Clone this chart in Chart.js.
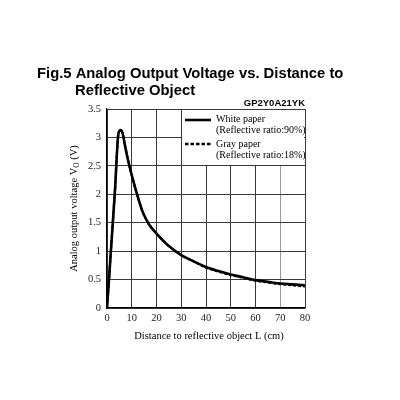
<!DOCTYPE html>
<html>
<head>
<meta charset="utf-8">
<script src="https://cdn.jsdelivr.net/npm/chart.js@4.4.0/dist/chart.umd.min.js"></script>
<style>
html,body{margin:0;padding:0;background:#fff;}
#wrap{width:400px;height:400px;position:relative;}
</style>
</head>
<body>
<div id="wrap"><canvas id="c" width="400" height="400"></canvas></div>
<script>
// ---- data ----
const chartTitle1 = "Fig.5 Analog Output Voltage vs. Distance to";
const chartTitle2 = "Reflective Object";
const modelName = "GP2Y0A21YK";
const xAxisTitle = "Distance to reflective object L (cm)";
const yTitleMain = "Analog output voltage V";
const yTitleSub = "O";
const yTitleTail = " (V)";

const whiteDistances = [0, 0.8, 2, 3.2, 4.6, 5.5, 6.3, 7.3, 8.6, 10.4, 12, 14, 15, 17, 20, 25, 30, 35, 40, 45, 50, 55, 60, 65, 70, 75, 80];
const whiteVolts     = [0, 0.5, 1.28, 2.05, 3.06, 3.13, 3.07, 2.85, 2.58, 2.27, 2.02, 1.74, 1.63, 1.47, 1.31, 1.09, 0.93, 0.82, 0.72, 0.65, 0.59, 0.54, 0.49, 0.46, 0.43, 0.415, 0.40];

const grayDistances = [0, 0.8, 2, 3.2, 4.6, 5.5, 6.3, 7.3, 8.6, 10.4, 12, 14, 15, 17, 20, 25, 30, 35, 40, 45, 50, 55, 60, 65, 70, 75, 80];
const grayVolts     = [0, 0.5, 1.28, 2.05, 3.06, 3.13, 3.07, 2.85, 2.58, 2.27, 2.02, 1.74, 1.63, 1.47, 1.31, 1.09, 0.93, 0.82, 0.71, 0.64, 0.58, 0.53, 0.48, 0.45, 0.42, 0.40, 0.38];

const legendLabels = ["White paper", "(Reflective ratio:90%)", "Gray paper", "(Reflective ratio:18%)"];

const xTicks = [0, 10, 20, 30, 40, 50, 60, 70, 80];
const yTicks = [0, 0.5, 1, 1.5, 2, 2.5, 3, 3.5];

function toPoints(xs, ys){ return xs.map((x,i)=>({x:x, y:ys[i]})); }

const serif = '"Liberation Serif", "Times New Roman", serif';
const sans = '"Liberation Sans", Arial, sans-serif';

const decorPlugin = {
  id: 'decor',
  beforeDatasetsDraw(chart){
    const ctx = chart.ctx, xs = chart.scales.x, ys = chart.scales.y, a = chart.chartArea;
    const lx = xs.getPixelForValue(30) + 1;
    const ly2 = ys.getPixelForValue(2.5) - 1;
    ctx.save();
    ctx.fillStyle = '#fff';
    ctx.fillRect(lx, a.top + 1, a.right - 1 - lx, ly2 - a.top - 1);
    ctx.restore();
  },
  afterDraw(chart){
    const ctx = chart.ctx, a = chart.chartArea;
    ctx.save();
    ctx.fillStyle = '#000';
    ctx.font = 'bold 14.8px ' + sans;
    ctx.textBaseline = 'alphabetic';
    ctx.textAlign = 'left';
    ctx.fillText(chartTitle1, 37, 77.5);
    ctx.fillText(chartTitle2, 75, 94.5);
    ctx.font = 'bold 9.5px ' + sans;
    ctx.textAlign = 'right';
    ctx.fillText(modelName, a.right, 106);
    ctx.font = '10.5px ' + serif;
    ctx.textAlign = 'center';
    ctx.textBaseline = 'middle';
    ctx.fillText(xAxisTitle, (a.left + a.right)/2 + 3, 336);
    ctx.save();
    ctx.translate(73, (a.top + a.bottom)/2);
    ctx.rotate(-Math.PI/2);
    ctx.font = '10.5px ' + serif;
    const w1 = ctx.measureText(yTitleMain).width;
    ctx.font = '7.5px ' + serif;
    const w2 = ctx.measureText(yTitleSub).width;
    ctx.font = '10.5px ' + serif;
    const w3 = ctx.measureText(yTitleTail).width;
    let x0 = -(w1 + w2 + w3)/2;
    ctx.textAlign = 'left';
    ctx.textBaseline = 'alphabetic';
    ctx.fillText(yTitleMain, x0, 3.5);
    ctx.font = '7.5px ' + serif;
    ctx.fillText(yTitleSub, x0 + w1, 5.5);
    ctx.font = '10.5px ' + serif;
    ctx.fillText(yTitleTail, x0 + w1 + w2, 3.5);
    ctx.restore();
    ctx.strokeStyle = '#000';
    ctx.lineWidth = 2.6;
    ctx.beginPath(); ctx.moveTo(185, 120); ctx.lineTo(211, 120); ctx.stroke();
    ctx.setLineDash([3.5, 2]);
    ctx.beginPath(); ctx.moveTo(185, 144); ctx.lineTo(211, 144); ctx.stroke();
    ctx.setLineDash([]);
    ctx.font = '10px ' + serif;
    ctx.textAlign = 'left';
    ctx.textBaseline = 'middle';
    ctx.fillText(legendLabels[0], 216, 119.5);
    ctx.fillText(legendLabels[1], 216, 130.5);
    ctx.fillText(legendLabels[2], 216, 144);
    ctx.fillText(legendLabels[3], 216, 155.5);
    ctx.restore();
  }
};

new Chart(document.getElementById('c'), {
  type: 'line',
  data: {
    datasets: [
      {
        label: legendLabels[2],
        data: toPoints(grayDistances, grayVolts),
        borderColor: '#000',
        borderWidth: 2.2,
        borderDash: [3, 2],
        pointRadius: 0,
        fill: false,
        cubicInterpolationMode: 'monotone'
      },
      {
        label: legendLabels[0],
        data: toPoints(whiteDistances, whiteVolts),
        borderColor: '#000',
        borderWidth: 2.6,
        pointRadius: 0,
        fill: false,
        cubicInterpolationMode: 'monotone'
      }
    ]
  },
  options: {
    responsive: false,
    animation: false,
    devicePixelRatio: 1,
    layout: { padding: { left: 60, right: 95, top: 109, bottom: 52 } },
    plugins: { legend: { display: false }, title: { display: false }, tooltip: { enabled: false } },
    scales: {
      x: {
        type: 'linear',
        min: 0, max: 80,
        afterFit(s){ s.height = 40; },
        afterBuildTicks(s){ s.ticks = xTicks.map(v=>({value:v})); },
        grid: {
          drawTicks: false,
          color: (c) => c.tick && c.tick.value === 70 ? '#9a9a9a' : '#3a3a3a',
          lineWidth: 1
        },
        border: { color: '#000', width: 1.2 },
        ticks: { color: '#222', padding: 4, font: { family: serif, size: 10.5 }, maxRotation: 0 }
      },
      y: {
        min: 0, max: 3.5,
        afterFit(s){ s.width = 47; },
        afterBuildTicks(s){ s.ticks = yTicks.map(v=>({value:v})); },
        grid: { drawTicks: false, color: '#3a3a3a', lineWidth: 1 },
        border: { color: '#000', width: 1.2 },
        ticks: { color: '#222', padding: 6, font: { family: serif, size: 10.5 },
                 callback: (v) => String(v) }
      }
    }
  },
  plugins: [decorPlugin]
});
</script>
</body>
</html>
